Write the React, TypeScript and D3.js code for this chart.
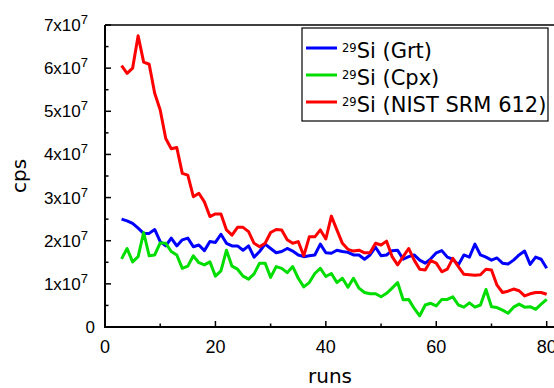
import React from 'react';
import * as d3 from 'd3';

// run numbers (x) and counts in units of 10^7 cps
const runs = [
  3, 4, 5, 6, 7, 8, 9, 10, 11, 12, 13, 14, 15, 16, 17, 18, 19, 20, 21, 22,
  23, 24, 25, 26, 27, 28, 29, 30, 31, 32, 33, 34, 35, 36, 37, 38, 39, 40, 41, 42,
  43, 44, 45, 46, 47, 48, 49, 50, 51, 52, 53, 54, 55, 56, 57, 58, 59, 60, 61, 62,
  63, 64, 65, 66, 67, 68, 69, 70, 71, 72, 73, 74, 75, 76, 77, 78, 79, 80,
];

const grt = [
  2.50, 2.46, 2.40, 2.29, 2.17, 2.17, 2.26, 1.98, 1.88, 2.06, 1.88, 2.02, 2.06, 1.86, 1.90, 1.77, 1.98, 1.96, 2.15, 1.94,
  1.88, 1.88, 1.78, 1.88, 1.62, 1.75, 1.92, 1.82, 1.72, 1.75, 1.82, 1.76, 1.67, 1.63, 1.65, 1.67, 1.92, 1.72, 1.71, 1.78,
  1.75, 1.73, 1.67, 1.67, 1.57, 1.67, 1.85, 1.65, 1.67, 1.77, 1.78, 1.57, 1.63, 1.67, 1.55, 1.48, 1.58, 1.72, 1.77, 1.62,
  1.57, 1.44, 1.67, 1.62, 1.92, 1.67, 1.62, 1.55, 1.60, 1.48, 1.46, 1.55, 1.67, 1.76, 1.45, 1.62, 1.57, 1.36,
];

const cpx = [
  1.58, 1.82, 1.51, 1.63, 2.19, 1.65, 1.67, 1.95, 1.94, 1.75, 1.67, 1.36, 1.41, 1.65, 1.49, 1.44, 1.51, 1.18, 1.30, 1.78,
  1.41, 1.34, 1.18, 1.11, 1.23, 1.48, 1.48, 1.15, 1.40, 1.36, 1.26, 1.40, 1.13, 0.93, 1.03, 1.24, 1.36, 1.17, 1.24, 1.03,
  1.13, 0.92, 1.13, 0.90, 0.80, 0.77, 0.77, 0.70, 0.78, 0.90, 1.03, 0.63, 0.64, 0.43, 0.26, 0.51, 0.55, 0.49, 0.64, 0.64,
  0.70, 0.51, 0.46, 0.56, 0.46, 0.51, 0.87, 0.47, 0.45, 0.39, 0.32, 0.46, 0.53, 0.46, 0.47, 0.41, 0.53, 0.64,
];

const nist = [
  6.06, 5.88, 6.00, 6.75, 6.14, 6.09, 5.42, 5.03, 4.37, 4.13, 4.16, 3.56, 3.52, 3.02, 3.10, 2.90, 2.56, 2.62, 2.62, 2.25,
  2.13, 2.31, 2.31, 2.21, 1.94, 1.86, 1.94, 2.19, 2.26, 2.25, 2.02, 1.94, 1.98, 1.65, 2.09, 2.09, 2.25, 2.04, 2.57, 2.25,
  1.94, 1.80, 1.76, 1.78, 1.72, 1.72, 1.94, 1.90, 1.99, 1.63, 1.44, 1.63, 1.82, 1.55, 1.34, 1.32, 1.54, 1.48, 1.28, 1.34,
  1.59, 1.40, 1.22, 1.21, 1.20, 1.21, 1.34, 1.32, 0.97, 0.80, 0.83, 0.88, 0.84, 0.72, 0.77, 0.80, 0.80, 0.76,
];

const seriesNames = ['(Grt)', '(Cpx)', '(NIST SRM 612)'];
const seriesColors = ['#0000ff', '#00dd00', '#ff0000'];
const xTicks = [0, 20, 40, 60, 80];
const xMinorTicks = [10, 30, 50, 70];
const yTicks = [0, 1, 2, 3, 4, 5, 6, 7];
const yMinorTicks = [0.5, 1.5, 2.5, 3.5, 4.5, 5.5, 6.5];

const W = 554;
const H = 388;
const margin = { left: 105, top: 25, bottom: 327, right: 546.7 };

export default function App() {
  const x = d3.scaleLinear().domain([0, 80]).range([margin.left, margin.right]);
  const y = d3.scaleLinear().domain([0, 7e7]).range([margin.bottom, margin.top]);

  const series = [grt, cpx, nist];
  const line = (vals: number[]) =>
    d3.line<number>()
      .x((_, i) => x(runs[i]))
      .y(d => y(d * 1e7))(vals) || '';

  const tickFont = '"Liberation Sans", Arial, sans-serif';
  const labelFont = '"DejaVu Sans", sans-serif';

  return (
    <svg width={W} height={H} style={{ position: 'absolute', left: 0, top: 0, background: '#fff' }}>
      {/* series */}
      {series.map((s, i) => (
        <path key={i} d={line(s)} fill="none" stroke={seriesColors[i]} strokeWidth={3} strokeLinejoin="round" />
      ))}

      {/* frame */}
      <line x1={margin.left} x2={W} y1={margin.top} y2={margin.top} stroke="#000" strokeWidth={1.5} />
      <line x1={margin.left} x2={margin.left} y1={margin.top} y2={margin.bottom + 1} stroke="#000" strokeWidth={2} />
      <line x1={margin.left - 1} x2={W} y1={margin.bottom} y2={margin.bottom} stroke="#000" strokeWidth={2} />

      {/* x ticks */}
      {xTicks.map(t => (
        <g key={'xt' + t}>
          <line x1={x(t)} x2={x(t)} y1={margin.bottom} y2={margin.bottom - 6} stroke="#000" strokeWidth={1.5} />
          <text x={x(t)} y={353} textAnchor="middle" fontFamily={tickFont} fontSize={18}>{t}</text>
        </g>
      ))}
      {xMinorTicks.map(t => (
        <line key={'xm' + t} x1={x(t)} x2={x(t)} y1={margin.bottom} y2={margin.bottom - 3.5} stroke="#000" strokeWidth={1.5} />
      ))}

      {/* y ticks */}
      {yTicks.map(t => (
        <g key={'yt' + t}>
          <line x1={margin.left} x2={margin.left + 6} y1={y(t * 1e7)} y2={y(t * 1e7)} stroke="#000" strokeWidth={1.5} />
          {t === 0 ? (
            <text x={95} y={y(0) + 6} textAnchor="end" fontFamily={tickFont} fontSize={17}>0</text>
          ) : (
            <text x={88} y={y(t * 1e7) + 6} textAnchor="end" fontFamily={tickFont} fontSize={17}>
              {t}x10<tspan dy={-7} fontSize={13}>7</tspan>
            </text>
          )}
        </g>
      ))}
      {yMinorTicks.map(t => (
        <line key={'ym' + t} x1={margin.left} x2={margin.left + 3.5} y1={y(t * 1e7)} y2={y(t * 1e7)} stroke="#000" strokeWidth={1.5} />
      ))}

      {/* axis titles */}
      <text x={330} y={383} textAnchor="middle" fontFamily={labelFont} fontSize={20}>runs</text>
      <text transform={`translate(26,${(margin.top + margin.bottom) / 2}) rotate(-90)`} textAnchor="middle" fontFamily={labelFont} fontSize={20}>cps</text>

      {/* legend */}
      <rect x={302} y={28} width={246} height={93} fill="#fff" stroke="#000" strokeWidth={1.2} />
      {seriesNames.map((n, i) => (
        <g key={n} transform={`translate(0,${48 + i * 27})`}>
          <line x1={306} x2={337} y1={0} y2={0} stroke={seriesColors[i]} strokeWidth={3} />
          <text x={342} y={9.5} fontFamily={labelFont} fontSize={21}>
            <tspan fontSize={11.5} dy={-6}>29</tspan>
            <tspan dy={6}>Si {n}</tspan>
          </text>
        </g>
      ))}
    </svg>
  );
}
